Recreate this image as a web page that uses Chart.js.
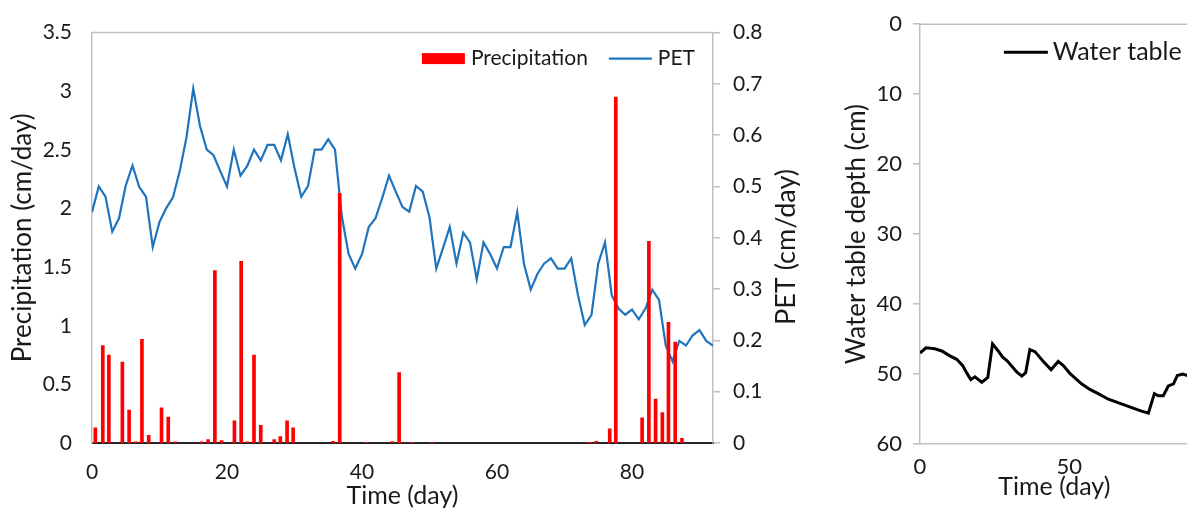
<!DOCTYPE html>
<html>
<head>
<meta charset="utf-8">
<script src="https://cdn.jsdelivr.net/npm/chart.js@4.4.1/dist/chart.umd.min.js"></script>
<style>
  html, body { margin: 0; padding: 0; background: #fff; overflow: hidden; }
  #wrap { position: relative; width: 1187px; height: 514px; overflow: hidden; }
  #left { position: absolute; left: 0; top: 0; }
  #right { position: absolute; left: 830px; top: 0; }
</style>
</head>
<body>
<div id="wrap">
  <canvas id="left" width="830" height="514"></canvas>
  <canvas id="right" width="362" height="514"></canvas>
</div>
<script>
// PET (cm/day), one value per day from day 0 to day 92
const petValues = [
  0.450, 0.500, 0.480, 0.412, 0.438, 0.502, 0.541, 0.499, 0.480, 0.382,
  0.431, 0.458, 0.479, 0.530, 0.596, 0.691, 0.618, 0.572, 0.561, 0.530,
  0.500, 0.572, 0.521, 0.540, 0.572, 0.551, 0.581, 0.581, 0.551, 0.602,
  0.536, 0.480, 0.501, 0.572, 0.572, 0.592, 0.572, 0.443, 0.369, 0.340,
  0.368, 0.421, 0.438, 0.478, 0.521, 0.490, 0.460, 0.451, 0.501, 0.490,
  0.440, 0.340, 0.380, 0.421, 0.350, 0.410, 0.391, 0.319, 0.391, 0.368,
  0.340, 0.382, 0.382, 0.450, 0.349, 0.299, 0.330, 0.350, 0.360, 0.340,
  0.340, 0.360, 0.288, 0.230, 0.250, 0.350, 0.391, 0.288, 0.262, 0.250,
  0.260, 0.241, 0.262, 0.299, 0.279, 0.190, 0.159, 0.199, 0.190, 0.210,
  0.220, 0.199, 0.190
];

// Precipitation (cm/day) bars, at the day where each one stands
const precipDays = [
  0.5, 1.6, 2.5, 4.5, 5.5, 6.5, 7.4, 8.4, 10.3, 11.3,
  12.3, 16.2, 17.2, 18.2, 19.2, 21.1, 22.1, 23.0, 24.0, 25.0,
  27.0, 27.9, 28.9, 29.8, 35.7, 36.7, 40.7, 44.5, 45.5, 47.4,
  50.4, 73.7, 74.7, 76.7, 77.6, 81.5, 82.5, 83.5, 84.5, 85.4,
  86.4, 87.4
];
const precipValues = [
  0.13, 0.83, 0.75, 0.69, 0.28, 0.01, 0.885, 0.066, 0.30, 0.22,
  0.01, 0.01, 0.03, 1.47, 0.02, 0.19, 1.55, 0.01, 0.75, 0.15,
  0.03, 0.055, 0.19, 0.13, 0.015, 2.13, 0.005, 0.012, 0.60, 0.005,
  0.005, 0.005, 0.015, 0.12, 2.95, 0.215, 1.72, 0.375, 0.26, 1.03,
  0.86, 0.04
];

// Water table depth (cm) against time (day)
const wtDays = [
  0, 2.0, 5.0, 7.3, 10.0, 12.3, 14.3, 15.6, 17.0, 18.4,
  20.7, 22.7, 24.3, 26.2, 27.7, 29.2, 32.4, 34.1, 35.4, 36.8,
  38.5, 41.1, 43.9, 46.3, 48.0, 50.2, 54.1, 56.9, 59.7, 63.1,
  67.0, 70.9, 74.2, 76.5, 78.5, 79.8, 81.5, 83.2, 84.9, 86.2,
  88.0, 89.4, 90
];
const wtDepth = [
  47.0, 46.25, 46.4, 46.7, 47.4, 47.9, 48.8, 49.8, 50.8, 50.4,
  51.2, 50.5, 45.7, 46.7, 47.6, 48.1, 49.7, 50.3, 49.8, 46.5,
  46.8, 48.1, 49.4, 48.2, 48.8, 49.9, 51.4, 52.2, 52.8, 53.6,
  54.2, 54.8, 55.3, 55.6, 52.8, 53.1, 53.1, 51.7, 51.4, 50.2,
  50.0, 50.2, 50.3
];

const textColor = "#1a1a1a";
const axisGray = "#bfbfbf";
const petColor = "#1f74bd";

Chart.defaults.font.family = "Lato, 'Open Sans', sans-serif";
Chart.defaults.color = textColor;

const plainNumber = (v) => String(+Number(v).toFixed(2));

// top edge of the plot frame
const frameTop = {
  id: "frameTop",
  afterDatasetsDraw(chart, args, opts) {
    const { ctx, chartArea: a } = chart;
    ctx.save();
    ctx.strokeStyle = opts.color;
    ctx.lineWidth = opts.width;
    ctx.beginPath();
    ctx.moveTo(a.left, a.top);
    ctx.lineTo(a.right, a.top);
    ctx.stroke();
    ctx.restore();
  },
};

// legend drawn inside the plot, top right, one row
const insideLegend = {
  id: "insideLegend",
  afterDatasetsDraw(chart, args, opts) {
    const { ctx, chartArea: a } = chart;
    const datasets = chart.data.datasets;
    ctx.save();
    ctx.font = opts.font;
    const widths = datasets.map((ds) => ctx.measureText(ds.label).width);
    let total = 0;
    widths.forEach((w, i) => {
      total += opts.sampleWidth + opts.textGap + w + (i ? opts.itemGap : 0);
    });
    let x = a.right - opts.rightPad - total;
    const y = a.top + opts.offsetY;
    datasets.forEach((ds, i) => {
      if (ds.type === "bar") {
        ctx.fillStyle = ds.backgroundColor;
        ctx.fillRect(x, y - opts.boxHeight / 2, opts.sampleWidth, opts.boxHeight);
      } else {
        ctx.strokeStyle = ds.borderColor;
        ctx.lineWidth = ds.borderWidth;
        ctx.beginPath();
        ctx.moveTo(x, y);
        ctx.lineTo(x + opts.sampleWidth, y);
        ctx.stroke();
      }
      x += opts.sampleWidth + opts.textGap;
      ctx.fillStyle = textColor;
      ctx.textAlign = "left";
      ctx.textBaseline = "middle";
      ctx.fillText(ds.label, x, y);
      x += widths[i] + opts.itemGap;
    });
    ctx.restore();
  },
};

// right axis title, read bottom to top like the left one
const sideTitle = {
  id: "sideTitle",
  afterDraw(chart, args, opts) {
    if (!opts.text) return;
    const { ctx } = chart;
    ctx.save();
    ctx.translate(opts.x, opts.y);
    ctx.rotate(-Math.PI / 2);
    ctx.font = opts.font;
    ctx.fillStyle = textColor;
    ctx.textAlign = "center";
    ctx.textBaseline = "middle";
    ctx.fillText(opts.text, 0, 0);
    ctx.restore();
  },
};

const precipPoints = precipDays.map((d, i) => ({ x: d, y: precipValues[i] }));
const petPoints = petValues.map((v, day) => ({ x: day, y: v }));
const wtPoints = wtDays.map((d, i) => ({ x: d, y: wtDepth[i] }));

new Chart(document.getElementById("left"), {
  type: "bar",
  data: {
    datasets: [
      {
        type: "bar",
        label: "Precipitation",
        data: precipPoints,
        backgroundColor: "#ff0000",
        borderWidth: 0,
        barThickness: 3,
        yAxisID: "y",
      },
      {
        type: "line",
        label: "PET",
        data: petPoints,
        borderColor: petColor,
        borderWidth: 2.2,
        pointRadius: 0,
        tension: 0,
        fill: false,
        yAxisID: "y1",
      },
    ],
  },
  options: {
    responsive: false,
    animation: false,
    layout: { padding: { top: 16, left: 0, right: 0, bottom: 0 } },
    scales: {
      x: {
        type: "linear",
        min: 0,
        max: 92,
        offset: false,
        grid: { display: false, drawTicks: false },
        border: { display: true, color: "#262626", width: 2 },
        ticks: { stepSize: 20, includeBounds: false, padding: 17, font: { size: 21 } },
        title: { display: true, text: "Time (day)", font: { size: 25 }, padding: { top: 0, bottom: 3 } },
        afterFit: (s) => { s.height = 71; },
      },
      y: {
        position: "left",
        min: 0,
        max: 3.5,
        grid: { display: false, drawTicks: false },
        border: { display: true, color: axisGray, width: 1.5 },
        ticks: { stepSize: 0.5, padding: 20, font: { size: 21 }, callback: plainNumber },
        title: { display: true, text: "Precipitation (cm/day)", font: { size: 26 }, padding: { top: 7, bottom: 0 } },
        afterFit: (s) => { s.width = 92; },
      },
      y1: {
        position: "right",
        min: 0,
        max: 0.8,
        grid: { display: true, drawOnChartArea: false, drawTicks: true, tickLength: 7, color: axisGray, lineWidth: 1.5 },
        border: { display: true, color: axisGray, width: 1.5 },
        ticks: { stepSize: 0.1, padding: 13, font: { size: 21 }, callback: plainNumber },
        afterFit: (s) => { s.width = 117; },
      },
    },
    plugins: {
      legend: { display: false },
      tooltip: { enabled: false },
      frameTop: { color: axisGray, width: 1.5 },
      insideLegend: { font: "21px Lato", sampleWidth: 43, boxHeight: 11, textGap: 6, itemGap: 21, rightPad: 18, offsetY: 26 },
      sideTitle: { text: "PET (cm/day)", x: 786, y: 247, font: "27px Lato" },
    },
  },
  plugins: [frameTop, insideLegend, sideTitle],
});

new Chart(document.getElementById("right"), {
  type: "line",
  data: {
    datasets: [
      {
        label: "Water table",
        data: wtPoints,
        borderColor: "#000000",
        borderWidth: 3,
        pointRadius: 0,
        tension: 0,
        fill: false,
      },
    ],
  },
  options: {
    responsive: false,
    animation: false,
    layout: { padding: { top: 18, left: 0, right: 3.3, bottom: 0 } },
    scales: {
      x: {
        type: "linear",
        min: 0,
        max: 90,
        grid: { display: false, drawTicks: false },
        border: { display: true, color: axisGray, width: 1.5 },
        ticks: { stepSize: 50, includeBounds: false, padding: 10, font: { size: 22 } },
        title: { display: true, text: "Time (day)", font: { size: 25 }, padding: { top: 0, bottom: 12 } },
        afterFit: (s) => { s.height = 70; },
      },
      y: {
        reverse: true,
        min: 0,
        max: 60,
        grid: { display: true, drawOnChartArea: false, drawTicks: true, tickLength: 7, color: axisGray, lineWidth: 1.5 },
        border: { display: true, color: axisGray, width: 1.5 },
        ticks: { stepSize: 10, padding: 11, font: { size: 22 } },
        title: { display: true, text: "Water table depth (cm)", font: { size: 26 }, padding: { top: 11, bottom: 0 } },
        afterFit: (s) => { s.width = 90; },
      },
    },
    plugins: {
      legend: { display: false },
      tooltip: { enabled: false },
      frameTop: { color: axisGray, width: 1.5 },
      insideLegend: { font: "25px Lato", sampleWidth: 44, boxHeight: 3, textGap: 5, itemGap: 0, rightPad: 7, offsetY: 28 },
    },
  },
  plugins: [frameTop, insideLegend],
});
</script>
</body>
</html>
